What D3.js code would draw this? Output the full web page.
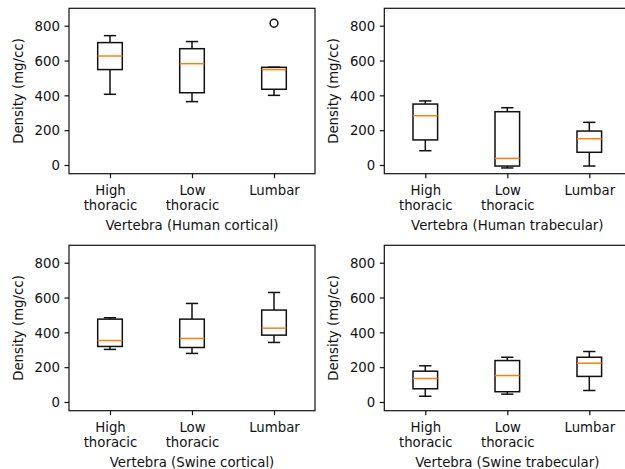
<!DOCTYPE html>
<html>
<head>
<meta charset="utf-8">
<script src="https://cdn.jsdelivr.net/npm/d3@7"></script>
<style>
	body { margin: 0; background: #fff; }
	svg { display: block; font-family: "DejaVu Sans", sans-serif; }
	text { fill: #111; }
</style>
</head>
<body>
<div id="graphic"></div>
<script>
// categories on the x axis (split into lines for the tick labels)
const categories = ["High thoracic", "Low thoracic", "Lumbar"];
const tickLines = [["High", "thoracic"], ["Low", "thoracic"], ["Lumbar"]];
const yTicks = [0, 200, 400, 600, 800];

// box stats per category: [whisker low, q1, median, q3, whisker high]
const humanCortical = [
	[406, 548, 626, 703, 743],
	[364, 415, 582, 668, 709],
	[400, 435, 548, 561, 562]
];
const humanCorticalFliers = [[], [], [814]];

const humanTrabecular = [
	[82, 144, 283, 350, 368],
	[-17, -6, 38, 306, 329],
	[-6, 73, 151, 195, 245]
];
const humanTrabecularFliers = [[], [], []];

const swineCortical = [
	[302, 319, 353, 476, 484],
	[279, 313, 365, 476, 566],
	[342, 384, 424, 528, 629]
];
const swineCorticalFliers = [[], [], []];

const swineTrabecular = [
	[33, 76, 135, 177, 208],
	[45, 59, 152, 238, 257],
	[66, 147, 223, 257, 290]
];
const swineTrabecularFliers = [[], [], []];

const panels = [
	{ label: "Vertebra (Human cortical)", stats: humanCortical, fliers: humanCorticalFliers, left: 69, top: 8.3 },
	{ label: "Vertebra (Human trabecular)", stats: humanTrabecular, fliers: humanTrabecularFliers, left: 384.3, top: 8.3 },
	{ label: "Vertebra (Swine cortical)", stats: swineCortical, fliers: swineCorticalFliers, left: 69, top: 245.3 },
	{ label: "Vertebra (Swine trabecular)", stats: swineTrabecular, fliers: swineTrabecularFliers, left: 384.3, top: 245.3 }
];

const width = 625, height = 469;
const chartWidth = 246, chartHeight = 165.4;
const boxWidth = 0.3, capWidth = 0.15;
const lw = 1.5;
const fontSize = 13.3;

const svg = d3.select('#graphic').append('svg')
	.attr('width', width)
	.attr('height', height);

//scales are shared by all four panels
const x = d3.scaleLinear().domain([0.5, 3.5]).range([0, chartWidth]);
const y = d3.scaleLinear().domain([-50, 900]).range([chartHeight, 0]);

panels.forEach(function (p) {
	let g = svg.append('g').attr('transform', 'translate(' + p.left + ',' + p.top + ')');

	// y axis
	g.append('g')
		.attr('class', 'y axis')
		.call(d3.axisLeft(y).tickValues(yTicks).tickSize(4.5).tickPadding(4.5).tickSizeOuter(0))
		.call(a => a.select('.domain').remove())
		.call(a => a.selectAll('line').attr('stroke', '#111').attr('stroke-width', 1.2))
		.call(a => a.selectAll('text')
			.attr('font-size', fontSize)
			.attr('font-family', '"DejaVu Sans", sans-serif')
			.attr('dy', '0.36em'));

	// x axis with two-line labels
	g.append('g')
		.attr('class', 'x axis')
		.attr('transform', 'translate(0,' + chartHeight + ')')
		.call(d3.axisBottom(x).tickValues([1, 2, 3]).tickSize(4.5).tickSizeOuter(0).tickFormat(''))
		.call(a => a.select('.domain').remove())
		.call(a => a.selectAll('line').attr('stroke', '#111').attr('stroke-width', 1.2))
		.each(function () {
			d3.select(this).selectAll('.tick text')
				.attr('y', 0).attr('dy', null)
				.attr('font-size', fontSize)
				.attr('font-family', '"DejaVu Sans", sans-serif')
				.each(function (d, i) {
					d3.select(this).selectAll('tspan')
						.data(tickLines[i])
						.join('tspan')
						.attr('x', 0)
						.attr('y', (t, j) => 21.2 + j * 15.3)
						.text(t => t);
				});
		});

	// frame (all four spines)
	g.append('rect')
		.attr('width', chartWidth)
		.attr('height', chartHeight)
		.attr('fill', 'none')
		.attr('stroke', '#111')
		.attr('stroke-width', 1.2);

	// axis titles
	g.append('text')
		.attr('x', chartWidth / 2)
		.attr('y', chartHeight + 56.8)
		.attr('text-anchor', 'middle')
		.attr('font-size', fontSize)
		.text(p.label);

	g.append('text')
		.attr('transform', 'translate(-46.3,' + chartHeight / 2 + ') rotate(-90)')
		.attr('text-anchor', 'middle')
		.attr('font-size', fontSize)
		.text('Density (mg/cc)');

	// boxes
	let boxes = g.selectAll('g.box')
		.data(p.stats)
		.join('g')
		.attr('class', 'box');

	boxes.append('line')
		.attr('x1', (d, i) => x(i + 1)).attr('x2', (d, i) => x(i + 1))
		.attr('y1', d => y(d[0])).attr('y2', d => y(d[1]));
	boxes.append('line')
		.attr('x1', (d, i) => x(i + 1)).attr('x2', (d, i) => x(i + 1))
		.attr('y1', d => y(d[3])).attr('y2', d => y(d[4]));
	boxes.append('line')
		.attr('x1', (d, i) => x(i + 1 - capWidth / 2)).attr('x2', (d, i) => x(i + 1 + capWidth / 2))
		.attr('y1', d => y(d[0])).attr('y2', d => y(d[0]));
	boxes.append('line')
		.attr('x1', (d, i) => x(i + 1 - capWidth / 2)).attr('x2', (d, i) => x(i + 1 + capWidth / 2))
		.attr('y1', d => y(d[4])).attr('y2', d => y(d[4]));
	boxes.append('rect')
		.attr('x', (d, i) => x(i + 1 - boxWidth / 2))
		.attr('width', x(1 + boxWidth) - x(1))
		.attr('y', d => y(d[3]))
		.attr('height', d => y(d[1]) - y(d[3]))
		.attr('fill', 'none');
	boxes.selectAll('line, rect').attr('stroke', '#111').attr('stroke-width', lw);

	boxes.append('line')
		.attr('x1', (d, i) => x(i + 1 - boxWidth / 2)).attr('x2', (d, i) => x(i + 1 + boxWidth / 2))
		.attr('y1', d => y(d[2])).attr('y2', d => y(d[2]))
		.attr('stroke', '#ff7f0e')
		.attr('stroke-width', lw);

	// outliers
	p.fliers.forEach(function (f, i) {
		g.selectAll(null)
			.data(f)
			.join('circle')
			.attr('cx', x(i + 1))
			.attr('cy', v => y(v))
			.attr('r', 3.9)
			.attr('fill', 'none')
			.attr('stroke', '#111')
			.attr('stroke-width', lw);
	});
});
</script>
</body>
</html>
